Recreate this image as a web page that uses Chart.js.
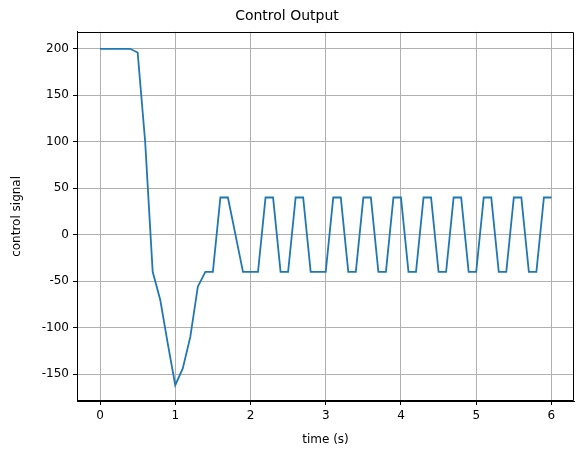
<!DOCTYPE html>
<html><head><meta charset="utf-8">
<script src="https://cdn.jsdelivr.net/npm/chart.js@4"></script>
<style>html,body{margin:0;padding:0;background:#fff}#w{width:583px;height:455px}</style>
</head><body><div id="w"><canvas id="c"></canvas></div>
<script>
const time = [0,0.1,0.2,0.3,0.4,0.5,0.6,0.7,0.8,0.9,1.0,1.1,1.2,1.3,1.4,1.5,1.6,1.7,1.8,1.9,2.0,2.1,2.2,2.3,2.4,2.5,2.6,2.7,2.8,2.9,3.0,3.1,3.2,3.3,3.4,3.5,3.6,3.7,3.8,3.9,4.0,4.1,4.2,4.3,4.4,4.5,4.6,4.7,4.8,4.9,5.0,5.1,5.2,5.3,5.4,5.5,5.6,5.7,5.8,5.9,6.0];
const control = [200,200,200,200,200,196,100,-40,-70,-117,-162,-144,-110,-56,-40,-40,40,40,0,-40,-40,-40,40,40,-40,-40,40,40,-40,-40,-40,40,40,-40,-40,40,40,-40,-40,40,40,-40,-40,40,40,-40,-40,40,40,-40,-40,40,40,-40,-40,40,40,-40,-40,40,40];
const xTicks = [0,1,2,3,4,5,6];
const yTicks = [-150,-100,-50,0,50,100,150,200];

Chart.defaults.font.family = "DejaVu Sans";
Chart.defaults.font.size = 12;
Chart.defaults.color = "#000";
const frame = {id:'frame', afterDatasetsDraw(ch){const a=ch.chartArea,c=ch.ctx;c.save();c.strokeStyle='#000';c.lineWidth=1;c.beginPath();c.rect(Math.round(a.left)+0.5,Math.round(a.top)+0.5,Math.round(a.right-a.left)-1,Math.round(a.bottom-a.top)-1);c.stroke();c.restore();}};
new Chart(document.getElementById('c'), {
  type:'line',
  data:{datasets:[{data:time.map((t,i)=>({x:t,y:control[i]})),borderColor:'#1f77b4',borderWidth:1.8,pointRadius:0,tension:0,fill:false}]},
  options:{
    responsive:true, maintainAspectRatio:false, animation:false,
    layout:{padding:{left:0,right:9,top:0,bottom:0}},
    plugins:{legend:{display:false},tooltip:{enabled:false},
      title:{display:true,text:'Control Output',font:{size:14,weight:'normal'},padding:{top:8,bottom:7}}},
    scales:{
      x:{type:'linear',min:-0.306,max:6.3,
        afterBuildTicks(s){s.ticks=xTicks.map(v=>({value:v}));},
        afterFit(s){s.height=54;},
        ticks:{padding:4,maxRotation:0},
        grid:{color:'#b0b0b0',tickLength:4,tickColor:'#000',drawTicks:true},
        border:{color:'#000'},
        title:{display:true,text:'time (s)',padding:{top:2,bottom:8}}},
      y:{type:'linear',min:-179,max:218.3,
        afterBuildTicks(s){s.ticks=yTicks.map(v=>({value:v}));},
        afterFit(s){s.width=77;},
        ticks:{padding:4},
        grid:{color:'#b0b0b0',tickLength:4,tickColor:'#000'},
        border:{color:'#000'},
        title:{display:true,text:'control signal',padding:{top:10,bottom:2}}}
    }
  },
  plugins:[frame]
});
</script></body></html>
